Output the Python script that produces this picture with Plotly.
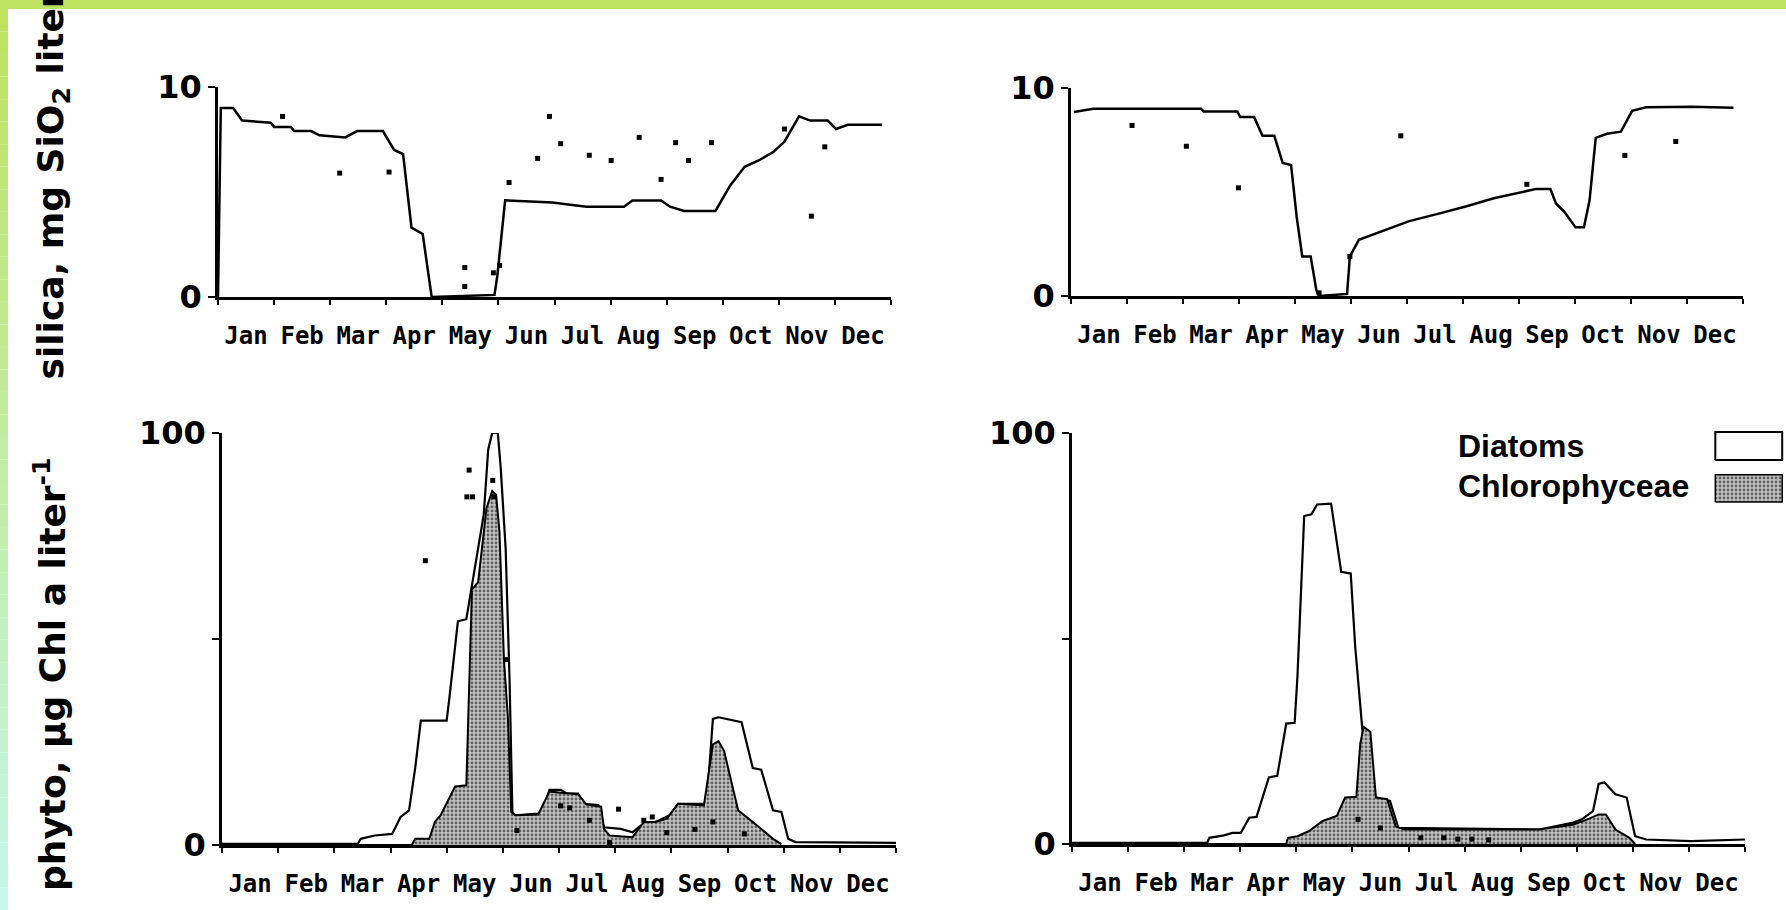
import plotly.graph_objects as go

# ---------------- data (x in months from 1 Jan, 0..12) ----------------
MONTHS = ["Jan", "Feb", "Mar", "Apr", "May", "Jun", "Jul", "Aug", "Sep", "Oct", "Nov", "Dec"]
MONTH_CENTERS = [i + 0.5 for i in range(12)]
MONTH_EDGES = list(range(13))

# silica, mg SiO2 per liter -- left lake (model line + observations)
sil_a_m = [0.00, 0.05, 0.27, 0.43, 0.94, 1.00, 1.30, 1.36, 1.66, 1.81, 2.27, 2.48, 2.94, 3.14,
           3.30, 3.45, 3.65, 3.81, 4.93, 4.98, 5.12, 5.96, 6.57, 7.24, 7.39, 7.90, 8.06, 8.31,
           8.87, 9.13, 9.39, 9.64, 9.90, 10.10, 10.36, 10.56, 10.87, 11.02, 11.23, 11.84]
sil_a_v = [0.0, 9.0, 9.0, 8.4, 8.3, 8.1, 8.1, 7.9, 7.9, 7.7, 7.6, 7.9, 7.9, 7.0,
           6.8, 3.3, 3.0, 0.0, 0.1, 1.0, 4.6, 4.5, 4.3, 4.3, 4.6, 4.6, 4.3, 4.1,
           4.1, 5.3, 6.2, 6.5, 6.9, 7.4, 8.6, 8.4, 8.4, 8.0, 8.2, 8.2]
sil_a_obs_m = [1.15, 2.17, 3.05, 4.40, 4.40, 4.91, 5.02, 5.19, 5.70, 5.91, 6.11, 6.62, 6.96,
               7.01, 7.51, 7.90, 8.16, 8.39, 8.80, 10.10, 10.58, 10.82]
sil_a_obs_v = [8.6, 5.9, 5.95, 1.4, 0.5, 1.15, 1.5, 5.45, 6.6, 8.6, 7.3, 6.75, 10.15,
               6.5, 7.6, 5.6, 7.35, 6.5, 7.35, 8.0, 3.85, 7.15]

# silica -- right lake
sil_b_m = [0.05, 0.40, 2.32, 2.37, 2.97, 3.02, 3.27, 3.42, 3.63, 3.78, 3.93, 4.03, 4.13, 4.28,
           4.38, 4.43, 4.93, 4.98, 5.14, 5.34, 5.64, 6.04, 6.55, 7.05, 7.55, 8.06, 8.31, 8.56,
           8.66, 8.81, 9.01, 9.16, 9.26, 9.37, 9.57, 9.82, 10.02, 10.27, 11.08, 11.83]
sil_b_v = [8.85, 9.0, 9.0, 8.87, 8.87, 8.6, 8.6, 7.7, 7.7, 6.4, 6.3, 3.8, 1.9, 1.9,
           0.3, 0.0, 0.1, 1.9, 2.7, 2.9, 3.2, 3.6, 3.95, 4.3, 4.7, 5.0, 5.15, 5.15,
           4.45, 4.05, 3.3, 3.3, 4.6, 7.6, 7.8, 7.9, 8.9, 9.07, 9.1, 9.05]
sil_b_obs_m = [1.09, 2.06, 2.99, 4.43, 4.98, 5.89, 6.95, 8.14, 9.89, 10.80]
sil_b_obs_v = [8.2, 7.2, 5.2, 0.15, 1.9, 7.7, 10.9, 5.37, 6.76, 7.43]

# phytoplankton, ug Chl a per liter -- left lake
dia_a_m = [0.0, 2.42, 2.47, 2.72, 3.03, 3.18, 3.33, 3.44, 3.54, 4.00, 4.05, 4.20, 4.35, 4.45,
           4.66, 4.74, 4.81, 4.91, 4.96, 5.05, 5.12, 5.17, 5.22, 5.63, 5.73, 5.83, 6.03, 6.14,
           6.34, 6.44, 6.70, 6.80, 7.10, 7.31, 7.46, 7.72, 7.97, 8.12, 8.63, 8.74, 8.84, 9.25,
           9.45, 9.60, 9.81, 9.96, 10.08, 10.21, 12.0]
dia_a_v = [0.3, 0.3, 1.5, 2.3, 2.7, 6.8, 8.4, 18.7, 30.2, 30.2, 35.9, 54.3, 54.8, 63.0,
           80.2, 96.0, 100.0, 100.0, 92.0, 72.0, 40.0, 8.0, 7.2, 7.6, 8.9, 13.4, 13.4, 12.5,
           12.5, 10.0, 9.7, 4.3, 3.9, 3.1, 4.75, 5.6, 7.2, 10.0, 10.0, 30.6, 31.0, 29.8,
           18.7, 18.3, 8.4, 8.0, 1.5, 0.7, 0.5]
chl_a_m = [0.0, 3.38, 3.44, 3.69, 3.79, 3.89, 4.15, 4.35, 4.45, 4.56, 4.71, 4.81, 4.88, 4.94,
           5.02, 5.09, 5.15, 5.22, 5.63, 5.83, 6.03, 6.34, 6.49, 6.75, 6.80, 6.90, 7.31, 7.51,
           7.72, 7.92, 8.12, 8.58, 8.74, 8.84, 8.94, 9.19, 9.45, 9.60, 9.81, 9.96]
chl_a_v = [0.0, 0.0, 1.5, 1.5, 5.6, 7.2, 14.2, 14.5, 62.0, 63.8, 81.8, 85.9, 85.0, 76.0,
           45.0, 31.0, 8.0, 7.2, 7.4, 13.0, 12.7, 12.3, 9.8, 9.3, 3.9, 2.3, 1.9, 5.6,
           5.6, 6.4, 10.0, 9.6, 24.4, 25.2, 22.8, 8.4, 5.6, 3.9, 1.5, 0.2]
phy_a_obs_m = [3.62, 4.40, 4.36, 4.46, 4.82, 4.84, 5.06, 5.25, 6.03, 6.19, 6.54, 7.06, 7.51,
               7.66, 7.92, 8.42, 8.74, 9.30, 6.90]
phy_a_obs_v = [69.0, 91.0, 84.5, 84.5, 88.5, 84.5, 45.0, 3.5, 9.5, 9.0, 6.0, 8.7, 6.0,
               6.8, 3.0, 3.8, 5.6, 2.7, 0.6]

# phytoplankton -- right lake
dia_b_m = [0.0, 2.41, 2.45, 2.71, 2.86, 3.01, 3.16, 3.29, 3.51, 3.66, 3.82, 3.97, 4.02, 4.14,
           4.27, 4.37, 4.62, 4.80, 4.97, 5.05, 5.17, 5.30, 5.52, 5.67, 5.82, 8.33, 8.94, 9.09,
           9.29, 9.39, 9.49, 9.69, 9.89, 10.04, 10.24, 11.04, 12.0]
dia_b_v = [0.3, 0.3, 1.5, 2.1, 2.7, 2.7, 6.4, 6.6, 16.2, 16.6, 29.3, 29.5, 40.8, 79.8,
           80.2, 82.6, 82.8, 66.2, 65.8, 48.0, 29.0, 12.0, 10.9, 10.5, 3.9, 3.5, 5.2, 6.0,
           8.0, 14.6, 15.0, 12.1, 11.3, 1.9, 1.1, 0.7, 1.1]
chl_b_m = [0.0, 3.82, 3.85, 4.02, 4.22, 4.47, 4.72, 4.87, 5.07, 5.14, 5.20, 5.32, 5.42, 5.62,
           5.77, 5.92, 8.33, 8.53, 8.94, 9.19, 9.39, 9.52, 9.69, 9.94, 10.04]
chl_b_v = [0.0, 0.0, 1.5, 1.9, 3.1, 5.6, 6.8, 11.3, 11.5, 24.4, 28.5, 27.3, 11.3, 10.9,
           4.3, 3.5, 3.5, 3.9, 4.75, 6.0, 7.2, 7.2, 3.5, 1.5, 0.0]
phy_b_obs_m = [5.10, 5.50, 6.22, 6.63, 6.88, 7.13, 7.43]
phy_b_obs_v = [6.0, 3.9, 1.5, 1.5, 1.2, 1.2, 1.0]

LEGEND_NAMES = ["Diatoms", "Chlorophyceae"]

# ---------------- figure ----------------
W, H = 1786, 910
fig = go.Figure()

LINE = dict(color="black", width=2.5)
STIPPLE = dict(shape=".", fgcolor="black", bgcolor="#c4c4c4", size=4, solidity=0.4)
DOT = dict(symbol="square", size=5, color="black")

def add_silica(xa, ya, m, v, om, ov):
    fig.add_trace(go.Scatter(x=m, y=v, mode="lines", line=LINE, xaxis=xa, yaxis=ya,
                             showlegend=False, cliponaxis=False))
    fig.add_trace(go.Scatter(x=om, y=ov, mode="markers", marker=DOT, xaxis=xa, yaxis=ya,
                             showlegend=False, cliponaxis=False))

def add_phyto(xa, ya, dm, dv, cm, cv, om, ov):
    fig.add_trace(go.Scatter(x=dm, y=dv, mode="lines", line=dict(color="black", width=2.2),
                             fill="tozeroy", fillcolor="white", xaxis=xa, yaxis=ya,
                             name=LEGEND_NAMES[0], showlegend=False))
    fig.add_trace(go.Scatter(x=cm, y=cv, mode="lines", line=dict(color="black", width=2),
                             fill="tozeroy", fillpattern=STIPPLE, xaxis=xa, yaxis=ya,
                             name=LEGEND_NAMES[1], showlegend=False))
    fig.add_trace(go.Scatter(x=om, y=ov, mode="markers", marker=DOT, xaxis=xa, yaxis=ya,
                             showlegend=False, cliponaxis=False))

add_silica("x", "y", sil_a_m, sil_a_v, sil_a_obs_m, sil_a_obs_v)
add_silica("x2", "y2", sil_b_m, sil_b_v, sil_b_obs_m, sil_b_obs_v)
add_phyto("x3", "y3", dia_a_m, dia_a_v, chl_a_m, chl_a_v, phy_a_obs_m, phy_a_obs_v)
add_phyto("x4", "y4", dia_b_m, dia_b_v, chl_b_m, chl_b_v, phy_b_obs_m, phy_b_obs_v)

# legend swatches on their own small axes
fig.add_trace(go.Scatter(x=[0.07, 0.95, 0.95, 0.07, 0.07], y=[0.59, 0.59, 0.95, 0.95, 0.59],
                         mode="lines", fill="toself", fillcolor="white",
                         line=dict(color="black", width=2), xaxis="x5", yaxis="y5",
                         showlegend=False, hoverinfo="skip"))
fig.add_trace(go.Scatter(x=[0.07, 0.95, 0.95, 0.07, 0.07], y=[0.05, 0.05, 0.40, 0.40, 0.05],
                         mode="lines", fill="toself", fillpattern=STIPPLE,
                         line=dict(color="black", width=1.5), xaxis="x5", yaxis="y5",
                         showlegend=False, hoverinfo="skip"))

def px_x(p):
    return p / W

def px_y(p):
    return 1 - p / H

XFONT = dict(family="DejaVu Sans Mono", size=24, color="black", weight="bold")
YFONT = dict(family="DejaVu Sans", size=32, color="black", weight="bold")

def xaxis(x0, x1, anchor):
    return dict(domain=[px_x(x0), px_x(x1)], anchor=anchor, range=[0, 12], automargin=False,
                showline=True, linecolor="black", linewidth=3, showgrid=False, zeroline=False,
                tickmode="array", tickvals=MONTH_CENTERS, ticktext=MONTHS, ticks="",
                tickfont=XFONT, ticklabelstandoff=15,
                minor=dict(tickmode="array", tickvals=MONTH_EDGES, ticks="outside",
                           ticklen=5, tickwidth=1.5, tickcolor="black", showgrid=False),
                fixedrange=True)

def yaxis(ytop, ybot, rmax, tv, tt, anchor):
    return dict(domain=[px_y(ybot), px_y(ytop)], range=[0, rmax], anchor=anchor,
                automargin=False,
                showline=True, linecolor="black", linewidth=2.5, showgrid=False, zeroline=False,
                tickmode="array", tickvals=tv, ticktext=tt, ticks="outside", ticklen=7,
                tickwidth=2, tickcolor="black", tickfont=YFONT, fixedrange=True)

fig.update_layout(
    width=W, height=H, autosize=False,
    margin=dict(l=0, r=0, t=0, b=0, pad=0, autoexpand=False),
    paper_bgcolor="white", plot_bgcolor="white",
    showlegend=False,
    xaxis=xaxis(218, 891, "y"),
    xaxis2=xaxis(1071, 1743, "y2"),
    xaxis3=xaxis(222, 896, "y3"),
    xaxis4=xaxis(1072, 1745, "y4"),
    yaxis=yaxis(87, 297, 10, [0, 10], ["0", "10"], "x"),
    yaxis2=yaxis(88, 296, 10, [0, 10], ["0", "10"], "x2"),
    yaxis3=yaxis(433, 845, 100, [0, 50, 100], ["0", "", "100"], "x3"),
    yaxis4=yaxis(433, 844, 100, [0, 50, 100], ["0", "", "100"], "x4"),
    xaxis5=dict(domain=[px_x(1710), px_x(1786)], range=[0, 1], visible=False,
                anchor="y5", fixedrange=True, automargin=False),
    yaxis5=dict(domain=[px_y(506), px_y(428)], range=[0, 1], visible=False,
                anchor="x5", fixedrange=True, automargin=False),
)

# decorative green scan border
shapes = [dict(type="rect", xref="paper", yref="paper", x0=0, x1=1, y0=px_y(9), y1=1,
               fillcolor="#bde25f", line=dict(width=0), layer="below")]
n = 40
top_c = (189, 226, 95)
bot_c = (197, 246, 232)
for i in range(n):
    t = i / (n - 1)
    c = tuple(round(top_c[k] + (bot_c[k] - top_c[k]) * t) for k in range(3))
    y_top = 9 + (H - 9) * i / n
    y_bot = 9 + (H - 9) * (i + 1) / n
    shapes.append(dict(type="rect", xref="paper", yref="paper", x0=0, x1=px_x(8),
                       y0=px_y(y_bot), y1=px_y(y_top),
                       fillcolor="rgb(%d,%d,%d)" % c, line=dict(width=0), layer="below"))
fig.update_layout(shapes=shapes)

TITLE_FONT = dict(family="DejaVu Sans", size=36, color="black", weight="bold")
LEG_FONT = dict(family="Liberation Sans, Arial", size=32, color="black", weight="bold")
fig.add_annotation(text="silica, mg SiO<sub>2</sub> liter<sup>-1</sup>", textangle=-90,
                   xref="paper", yref="paper", x=px_x(50), y=px_y(382),
                   xanchor="center", yanchor="bottom", showarrow=False, font=TITLE_FONT)
fig.add_annotation(text="phyto, \u00b5g Chl a liter<sup>-1</sup>", textangle=-90,
                   xref="paper", yref="paper", x=px_x(50), y=px_y(893),
                   xanchor="center", yanchor="bottom", showarrow=False, font=TITLE_FONT)
fig.add_annotation(text=LEGEND_NAMES[0], xref="paper", yref="paper", x=px_x(1456), y=px_y(446),
                   xanchor="left", yanchor="middle", showarrow=False, font=LEG_FONT)
fig.add_annotation(text=LEGEND_NAMES[1], xref="paper", yref="paper", x=px_x(1456), y=px_y(486),
                   xanchor="left", yanchor="middle", showarrow=False, font=LEG_FONT)

fig.write_html("out.html", config={"displayModeBar": False},
               post_script="document.body.style.margin='0';document.body.style.overflow='hidden';")
